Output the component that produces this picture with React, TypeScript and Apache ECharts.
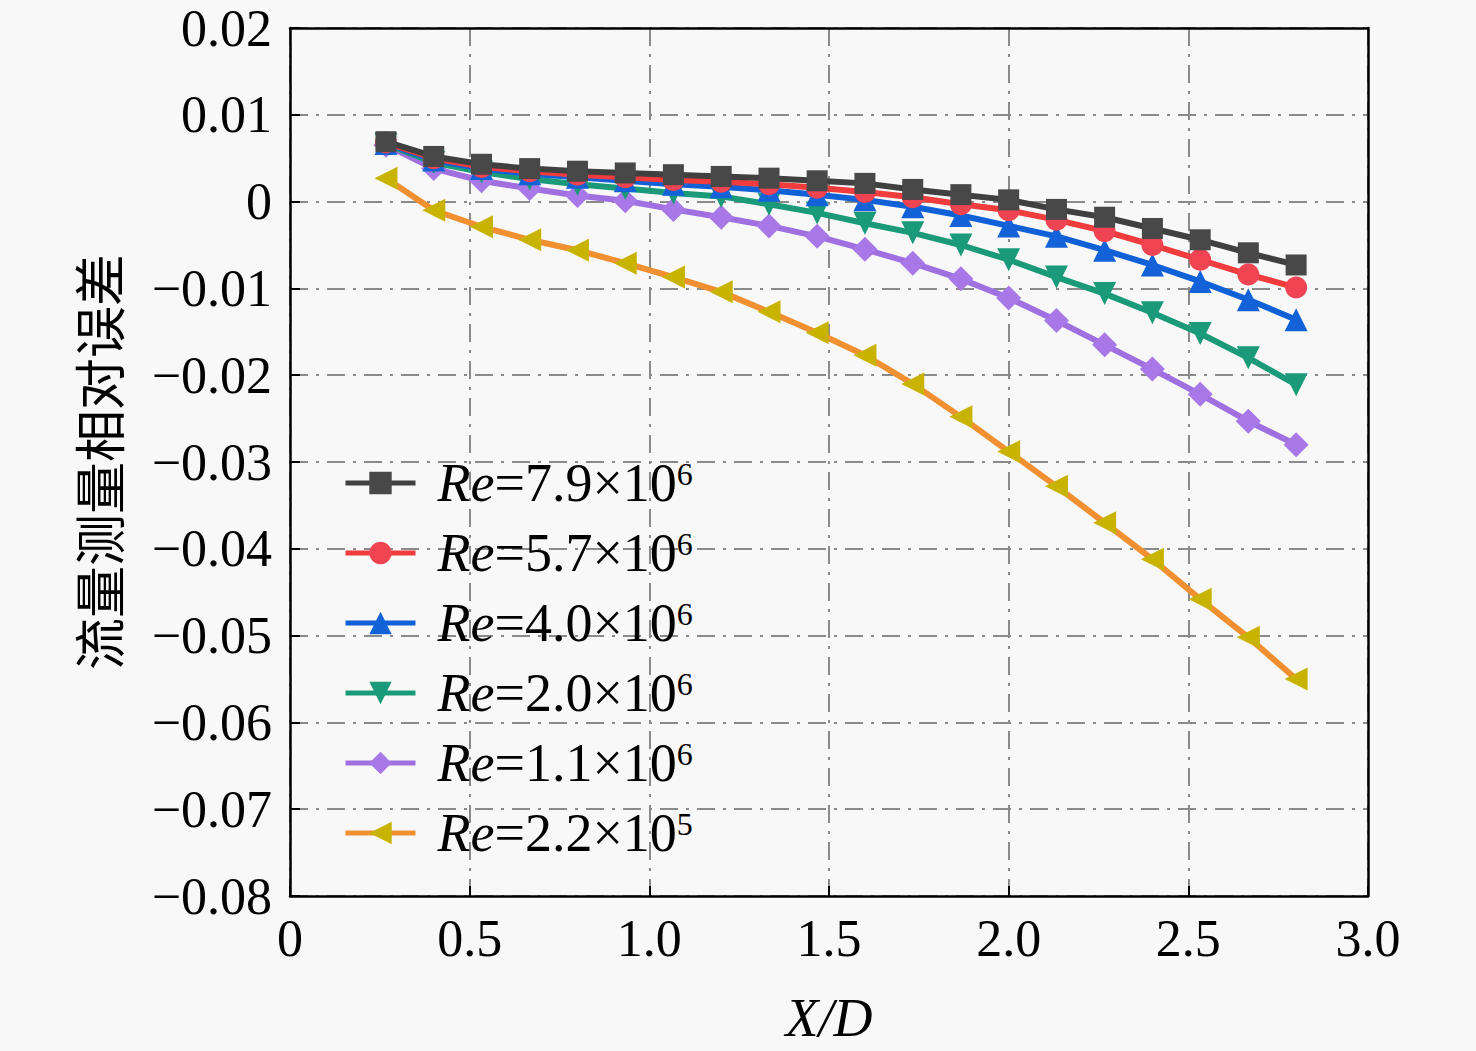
import React, { useEffect, useRef } from "react";
import * as echarts from "echarts";

const xValues = [0.267, 0.4, 0.533, 0.667, 0.8, 0.933, 1.067, 1.2, 1.333, 1.467, 1.6, 1.733, 1.867, 2.0, 2.133, 2.267, 2.4, 2.533, 2.667, 2.8];

const re79 = [0.0069, 0.0052, 0.0043, 0.0038, 0.0035, 0.0033, 0.0031, 0.0029, 0.0027, 0.0024, 0.0021, 0.0014, 0.0008, 0.0002, -0.0009, -0.0018, -0.0031, -0.0044, -0.0059, -0.0073];
const re57 = [0.0068, 0.005, 0.004, 0.0035, 0.0031, 0.0028, 0.0025, 0.0023, 0.002, 0.0016, 0.0011, 0.0005, -0.0003, -0.001, -0.0021, -0.0034, -0.005, -0.0067, -0.0084, -0.0099];
const re40 = [0.0067, 0.0048, 0.0038, 0.0032, 0.0028, 0.0024, 0.002, 0.0017, 0.0013, 0.0008, 0.0002, -0.0006, -0.0016, -0.0028, -0.004, -0.0056, -0.0073, -0.0092, -0.0113, -0.0136];
const re20 = [0.0066, 0.0045, 0.0034, 0.0026, 0.002, 0.0015, 0.001, 0.0006, -0.0003, -0.0013, -0.0025, -0.0036, -0.005, -0.0067, -0.0087, -0.0106, -0.0128, -0.0152, -0.018, -0.0211];
const re11 = [0.0065, 0.0038, 0.0024, 0.0015, 0.0007, 0.0001, -0.0009, -0.0018, -0.0028, -0.004, -0.0055, -0.0071, -0.0089, -0.0111, -0.0137, -0.0165, -0.0193, -0.0222, -0.0253, -0.028];
const re22 = [0.0027, -0.001, -0.0029, -0.0044, -0.0056, -0.0071, -0.0087, -0.0104, -0.0127, -0.0151, -0.0177, -0.021, -0.0248, -0.0288, -0.0328, -0.037, -0.0412, -0.0458, -0.0502, -0.055];

const seriesValues = [re79, re57, re40, re20, re11, re22];
const reMantissa = ["7.9", "5.7", "4.0", "2.0", "1.1", "2.2"];
const reExponent = ["6", "6", "6", "6", "6", "5"];
const lineColors = ["#404040", "#f03c3c", "#1060d8", "#1a9a78", "#a070e0", "#f09030"];
const markerColors = ["#484848", "#f04452", "#1462d8", "#1a9a78", "#a878e8", "#c8b400"];
const symbols = ["rect", "circle", "triangle", "triangle", "diamond", "triangle"];
const symbolRotations = [0, 0, 0, 180, 0, 90];
const symbolSizes = [21, 22, 23, 23, 25, 23];

const yAxisTitle = "流量测量相对误差";
const xAxisTitle = "X/D";

const SERIF = "'Liberation Serif', 'Times New Roman', serif";

export default function App() {
  const ref = useRef<HTMLDivElement>(null);

  useEffect(() => {
    document.body.style.margin = "0";
    document.body.style.background = "#f8f8f8";
    if (!ref.current) return;
    const chart = echarts.init(ref.current, undefined, { renderer: "svg" });

    const names = reMantissa.map((m, i) => `Re=${m}×10^${reExponent[i]}`);

    const series = seriesValues.map((vals, i) => ({
      name: names[i],
      type: "line",
      data: vals.map((v, j) => [xValues[j], v]),
      symbol: symbols[i],
      symbolSize: symbolSizes[i],
      symbolRotate: symbolRotations[i],
      showAllSymbol: true,
      lineStyle: { color: lineColors[i], width: 6 },
      itemStyle: { color: markerColors[i] },
      z: 10 - i,
    }));

    const frameAxis = {
      type: "value",
      show: true,
      axisLine: { show: true, onZero: false, lineStyle: { color: "#000", width: 2.5 } },
      axisTick: { show: false },
      axisLabel: { show: false },
      splitLine: { show: false },
    };

    const gridLine = {
      show: true,
      lineStyle: { color: "#8a8a8a", width: 2, type: [18, 8, 3, 8] },
    };

    chart.setOption({
      animation: false,
      backgroundColor: "#f8f8f8",
      grid: {
        left: 290,
        top: 28,
        right: 108,
        bottom: 155,
      },
      legend: {
        orient: "vertical",
        left: 338,
        top: 451,
        itemWidth: 70,
        itemHeight: 28,
        itemGap: 16,
        data: names,
        lineStyle: { width: 5 },
        formatter: (name: string) => {
          const i = names.indexOf(name);
          return `{i|Re}{n|=${reMantissa[i]}×10}{s|${reExponent[i]}}`;
        },
        textStyle: {
          color: "#000",
          rich: {
            i: { fontFamily: SERIF, fontStyle: "italic", fontSize: 54, lineHeight: 50, padding: [0, 0, 0, 17], color: "#000" },
            n: { fontFamily: SERIF, fontSize: 54, lineHeight: 50, color: "#000" },
            s: { fontFamily: SERIF, fontSize: 32, lineHeight: 50, verticalAlign: "top", color: "#000" },
          },
        },
      },
      xAxis: [
        {
          type: "value",
          min: 0,
          max: 3,
          interval: 0.5,
          name: xAxisTitle,
          nameLocation: "middle",
          nameGap: 95,
          nameTextStyle: { fontFamily: SERIF, fontStyle: "italic", fontSize: 54, color: "#000" },
          axisLine: { show: true, onZero: false, lineStyle: { color: "#000", width: 2.5 } },
          axisTick: { show: true, inside: true, length: 10, lineStyle: { color: "#000", width: 2 } },
          axisLabel: {
            fontFamily: SERIF,
            fontSize: 52,
            color: "#000",
            margin: 16,
            formatter: (v: number) => (v === 0 ? "0" : v.toFixed(1)),
          },
          splitLine: gridLine,
        },
        { ...frameAxis, position: "top", min: 0, max: 3 },
      ],
      yAxis: [
        {
          type: "value",
          min: -0.08,
          max: 0.02,
          interval: 0.01,
          name: yAxisTitle,
          nameLocation: "middle",
          nameRotate: 90,
          nameGap: 167,
          nameTextStyle: { fontFamily: "'Noto Sans CJK SC', sans-serif", fontSize: 52, color: "#000" },
          axisLine: { show: true, onZero: false, lineStyle: { color: "#000", width: 2.5 } },
          axisTick: { show: true, inside: true, length: 10, lineStyle: { color: "#000", width: 2 } },
          axisLabel: {
            fontFamily: SERIF,
            fontSize: 52,
            color: "#000",
            margin: 18,
            formatter: (v: number) => {
              const r = Math.round(v * 100) / 100;
              if (Math.abs(r) < 1e-9) return "0";
              return r < 0 ? "−" + Math.abs(r).toFixed(2) : r.toFixed(2);
            },
          },
          splitLine: gridLine,
        },
        { ...frameAxis, position: "right", min: -0.08, max: 0.02 },
      ],
      series,
    });

    return () => chart.dispose();
  }, []);

  return <div ref={ref} style={{ width: 1476, height: 1051 }} />;
}
